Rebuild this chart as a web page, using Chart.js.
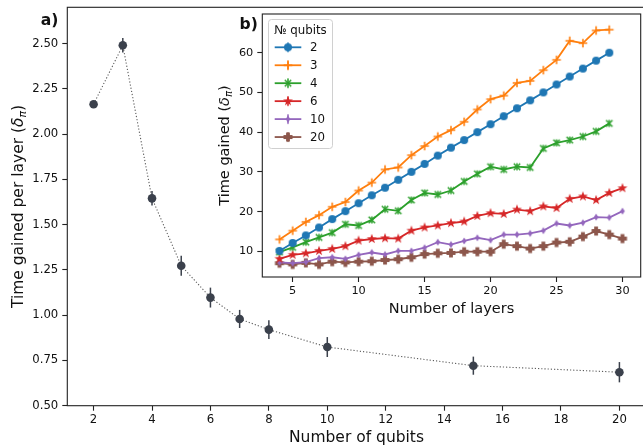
<!DOCTYPE html>
<html><head><meta charset="utf-8">
<script src="https://cdn.jsdelivr.net/npm/chart.js@4.4.1/dist/chart.umd.min.js"></script>
<style>
html,body{margin:0;padding:0;background:#fff;overflow:hidden;width:643px;height:447px;}
#wrap{position:relative;width:643px;height:447px;overflow:hidden;background:#fff;}
canvas{position:absolute;left:0;top:0;}
</style></head><body>
<div id="wrap"><canvas id="main" width="650" height="447"></canvas><canvas id="inset" width="650" height="447"></canvas></div>
<script>
// ---- main panel (a) data ----
const qubits = [2, 3, 4, 5, 6, 7, 8, 10, 15, 20];
const gainPerLayer = [2.165, 2.49, 1.645, 1.273, 1.097, 0.979, 0.92, 0.824, 0.721, 0.685];
const gainErr = [0.01, 0.04, 0.04, 0.055, 0.055, 0.05, 0.052, 0.055, 0.05, 0.056];
const qubitTicks = [2, 4, 6, 8, 10, 12, 14, 16, 18, 20];
const gainTicks = [0.5, 0.75, 1.0, 1.25, 1.5, 1.75, 2.0, 2.25, 2.5];

// ---- inset panel (b) data ----
const layers = [4,5,6,7,8,9,10,11,12,13,14,15,16,17,18,19,20,21,22,23,24,25,26,27,28,29,30];
const q2  = [10.1,12.1,14.0,16.0,18.1,20.1,22.1,24.1,26.0,28.0,30.0,32.0,34.1,36.1,38.0,40.0,42.0,44.0,46.0,48.0,50.0,52.0,54.0,56.0,58.0,60.0];
const q3  = [13.0,15.2,17.4,19.1,21.2,22.4,25.3,27.3,30.6,31.1,34.2,36.5,38.9,40.5,42.6,45.7,48.3,49.2,52.4,52.9,55.6,58.2,63.0,62.4,65.6,65.8];
const q4  = [9.8,11.0,12.3,13.5,14.7,16.8,16.5,17.9,20.6,20.2,22.9,24.7,24.3,25.3,27.6,29.5,31.3,30.6,31.3,31.1,35.9,37.3,38.0,38.9,40.2,42.2];
const q6  = [8.1,9.1,9.5,10.1,10.6,11.3,12.7,13.1,13.3,13.2,15.2,16.0,16.5,17.1,17.5,18.9,19.6,19.4,20.5,20.1,21.3,20.9,23.2,23.8,22.9,24.7,25.9];
const q10 = [7.2,7.0,7.3,8.3,8.5,8.1,9.1,9.7,9.2,10.1,10.1,10.9,12.3,11.7,12.6,13.4,12.8,14.2,14.2,14.5,15.2,17.0,16.5,17.2,18.6,18.5,20.1];
const q20 = [7.0,6.7,7.1,6.7,7.4,7.2,7.4,7.5,7.8,8.0,8.5,9.3,9.5,9.6,9.9,9.9,9.9,11.8,11.3,10.7,11.3,12.2,12.4,13.7,15.1,14.2,13.2];
const seriesLabels = ['2', '3', '4', '6', '10', '20'];
const layerTicks = [5, 10, 15, 20, 25, 30];
const timeTicks = [10, 20, 30, 40, 50, 60];

Chart.defaults.font.family = "'DejaVu Sans', sans-serif";
Chart.defaults.color = '#111';

const TXT = '#111';
const SPINE = '#222';
const MAINC = '#3b414c';
const COLORS = ['#1f77b4', '#ff7f0e', '#2ca02c', '#d62728', '#9467bd', '#8c564b'];
const KINDS = ['o', '+', 'x', '*', 'd', 'P'];

function makeMarker(kind, color, bar) {
  const S = 16, c = document.createElement('canvas');
  c.width = S; c.height = S;
  const g = c.getContext('2d');
  g.translate(S / 2, S / 2);
  g.fillStyle = color; g.strokeStyle = color;
  if (bar) { g.lineWidth = 1.6; g.beginPath(); g.moveTo(0, -bar); g.lineTo(0, bar); g.stroke(); }
  if (kind === 'o') { g.beginPath(); g.arc(0, 0, 4, 0, Math.PI * 2); g.fill(); }
  else if (kind === '+') { g.lineWidth = 1.6; g.beginPath(); g.moveTo(-4.3, 0); g.lineTo(4.3, 0); g.moveTo(0, -4.3); g.lineTo(0, 4.3); g.stroke(); }
  else if (kind === 'x') { g.lineWidth = 1.5; g.beginPath(); g.moveTo(-3.2, -3.2); g.lineTo(3.2, 3.2); g.moveTo(-3.2, 3.2); g.lineTo(3.2, -3.2); g.stroke(); }
  else if (kind === '*') {
    g.beginPath();
    for (let k = 0; k < 10; k++) { const r = k % 2 ? 2.1 : 5.2; const a = -Math.PI / 2 + k * Math.PI / 5; const px = r * Math.cos(a), py = r * Math.sin(a); k ? g.lineTo(px, py) : g.moveTo(px, py); }
    g.closePath(); g.fill();
  }
  else if (kind === 'd') { g.beginPath(); g.moveTo(0, -3.4); g.lineTo(2.3, 0); g.lineTo(0, 3.4); g.lineTo(-2.3, 0); g.closePath(); g.fill(); }
  else if (kind === 'P') {
    const L = 4.5, W = 1.9;
    g.beginPath();
    g.moveTo(-W, -L); g.lineTo(W, -L); g.lineTo(W, -W); g.lineTo(L, -W); g.lineTo(L, W); g.lineTo(W, W);
    g.lineTo(W, L); g.lineTo(-W, L); g.lineTo(-W, W); g.lineTo(-L, W); g.lineTo(-L, -W); g.lineTo(-W, -W); g.closePath(); g.fill();
  }
  return c;
}

function drawVText(ctx, cx, cy, parts, size) {
  ctx.save();
  ctx.translate(cx, cy); ctx.rotate(-Math.PI / 2);
  ctx.fillStyle = TXT; ctx.textBaseline = 'alphabetic'; ctx.textAlign = 'left';
  const fontFor = p => (p.it ? 'italic ' : '') + (p.sub ? size * 0.7 : size) + "px 'DejaVu Sans'";
  let total = 0;
  const ws = parts.map(p => { ctx.font = fontFor(p); const w = ctx.measureText(p.t).width; total += w; return w; });
  let x = -total / 2;
  parts.forEach((p, i) => { ctx.font = fontFor(p); ctx.fillText(p.t, x, size * 0.35 + (p.sub ? size * 0.22 : 0)); x += ws[i]; });
  ctx.restore();
}

const framePlugin = {
  id: 'frame',
  beforeDraw(chart, args, opts) {
    if (opts.fill) {
      const a = chart.chartArea, ctx = chart.ctx;
      ctx.save(); ctx.fillStyle = '#fff'; ctx.fillRect(a.left, a.top, a.right - a.left, a.bottom - a.top); ctx.restore();
    }
  },
  afterDraw(chart, args, opts) {
    const a = chart.chartArea, ctx = chart.ctx;
    ctx.save(); ctx.strokeStyle = SPINE; ctx.lineWidth = 1.1;
    ctx.strokeRect(a.left, a.top, a.right - a.left, a.bottom - a.top);
    ctx.restore();
    if (opts.ytitle) drawVText(ctx, opts.ytitle.x, (a.top + a.bottom) / 2, opts.ytitle.parts, opts.ytitle.size);
    if (opts.tag) {
      ctx.save(); ctx.fillStyle = TXT; ctx.font = "bold 15.6px 'DejaVu Sans'"; ctx.textAlign = 'center'; ctx.textBaseline = 'middle';
      ctx.fillText(opts.tag.t, opts.tag.x, opts.tag.y); ctx.restore();
    }
  }
};

const errPlugin = {
  id: 'errbars',
  beforeDatasetsDraw(chart) {
    const ctx = chart.ctx, xs = chart.scales.x, ys = chart.scales.y;
    ctx.save(); ctx.strokeStyle = MAINC; ctx.lineWidth = 1.5;
    qubits.forEach((q, i) => {
      const x = xs.getPixelForValue(q);
      ctx.beginPath();
      ctx.moveTo(x, ys.getPixelForValue(gainPerLayer[i] - gainErr[i]));
      ctx.lineTo(x, ys.getPixelForValue(gainPerLayer[i] + gainErr[i]));
      ctx.stroke();
    });
    ctx.restore();
  }
};

const legendMarkers = KINDS.map((k, i) => makeMarker(k, COLORS[i], 4.8));
const legendPlugin = {
  id: 'boxlegend',
  afterDraw(chart) {
    const ctx = chart.ctx;
    ctx.save();
    ctx.beginPath();
    ctx.roundRect(268.5, 19.5, 64, 129, 3);
    ctx.fillStyle = 'rgba(255,255,255,0.85)'; ctx.fill();
    ctx.strokeStyle = '#d0d0d0'; ctx.lineWidth = 1; ctx.stroke();
    ctx.fillStyle = TXT; ctx.font = "11.8px 'DejaVu Sans'"; ctx.textBaseline = 'middle';
    ctx.textAlign = 'center'; ctx.fillText('№ qubits', 300.5, 30.5);
    ctx.textAlign = 'left';
    chart.data.datasets.forEach((ds, i) => {
      const y = 47.3 + i * 17.95;
      ctx.strokeStyle = ds.borderColor; ctx.lineWidth = 1.8;
      ctx.beginPath(); ctx.moveTo(274.7, y); ctx.lineTo(301.3, y); ctx.stroke();
      const m = legendMarkers[i];
      ctx.drawImage(m, 288 - m.width / 2, y - m.height / 2);
      ctx.fillStyle = TXT; ctx.fillText(ds.label, 310, y + 0.5);
    });
    ctx.restore();
  }
};

const fixY = w => s => { s.width = w; s.paddingTop = 0; s.paddingBottom = 0; };
const fixX = h => s => { s.height = h; s.paddingLeft = 0; s.paddingRight = 0; };

// ---- main chart ----
new Chart(document.getElementById('main'), {
  type: 'line',
  data: {
    datasets: [{
      data: qubits.map((q, i) => ({ x: q, y: gainPerLayer[i] })),
      borderColor: '#5c5c5c', borderWidth: 1.1, borderDash: [1.2, 2.0],
      pointRadius: 4.3, pointBackgroundColor: MAINC, pointBorderColor: MAINC, pointBorderWidth: 0,
      tension: 0, fill: false
    }]
  },
  options: {
    responsive: false, animation: false, events: [],
    layout: { padding: { left: 0, top: 7.3, right: 4, bottom: 0 } },
    plugins: {
      legend: { display: false }, tooltip: { enabled: false },
      frame: { ytitle: { x: 17.5, size: 15.5, parts: [{ t: 'Time gained per layer (' }, { t: 'δ', it: true }, { t: 'π', it: true, sub: true }, { t: ')' }] }, tag: { t: 'a)', x: 49.5, y: 20.5 } }
    },
    scales: {
      x: {
        type: 'linear', min: 1.1, max: 20.9,
        afterFit: fixX(41.3),
        afterBuildTicks: s => { s.ticks = qubitTicks.map(v => ({ value: v })); },
        grid: { drawOnChartArea: false, tickLength: 5, tickColor: SPINE, tickWidth: 1.1 },
        border: { display: false },
        ticks: { padding: 2, color: TXT, font: { size: 11.7 }, maxRotation: 0, callback: v => String(v) },
        title: { display: true, text: 'Number of qubits', color: TXT, font: { size: 15.5 }, padding: 0 }
      },
      y: {
        type: 'linear', min: 0.5, max: 2.7,
        afterFit: fixY(67.3),
        afterBuildTicks: s => { s.ticks = gainTicks.map(v => ({ value: v })); },
        grid: { drawOnChartArea: false, tickLength: 5, tickColor: SPINE, tickWidth: 1.1 },
        border: { display: false },
        ticks: { padding: 4, color: TXT, font: { size: 11.7 }, callback: v => Number(v).toFixed(2) }
      }
    }
  },
  plugins: [framePlugin, errPlugin]
});

// ---- inset chart ----
const seriesValues = [q2, q3, q4, q6, q10, q20];
new Chart(document.getElementById('inset'), {
  type: 'line',
  data: {
    datasets: seriesValues.map((vals, i) => ({
      label: seriesLabels[i],
      data: vals.map((v, j) => ({ x: layers[j], y: v })),
      borderColor: COLORS[i], backgroundColor: COLORS[i], borderWidth: 1.8,
      pointStyle: makeMarker(KINDS[i], COLORS[i], KINDS[i] === 'x' ? 3.6 : 0),
      pointRadius: 4, tension: 0, fill: false
    }))
  },
  options: {
    responsive: false, animation: false, events: [],
    layout: { padding: { left: 222.3, top: 14, right: 9.3, bottom: 447 - 277 - 40.7 } },
    plugins: {
      legend: { display: false }, tooltip: { enabled: false },
      frame: { fill: true, ytitle: { x: 224, size: 14.5, parts: [{ t: 'Time gained (' }, { t: 'δ', it: true }, { t: 'π', it: true, sub: true }, { t: ')' }] }, tag: { t: 'b)', x: 248.7, y: 24.5 } }
    },
    scales: {
      x: {
        type: 'linear', min: 2.7, max: 31.38,
        afterFit: fixX(40.7),
        afterBuildTicks: s => { s.ticks = layerTicks.map(v => ({ value: v })); },
        grid: { drawOnChartArea: false, tickLength: 5, tickColor: SPINE, tickWidth: 1.1 },
        border: { display: false },
        ticks: { padding: 2, color: TXT, font: { size: 11.3 }, maxRotation: 0 },
        title: { display: true, text: 'Number of layers', color: TXT, font: { size: 14.5 }, padding: 0 }
      },
      y: {
        type: 'linear', min: 3.53, max: 69.74,
        afterFit: fixY(40),
        afterBuildTicks: s => { s.ticks = timeTicks.map(v => ({ value: v })); },
        grid: { drawOnChartArea: false, tickLength: 5, tickColor: SPINE, tickWidth: 1.1 },
        border: { display: false },
        ticks: { padding: 4, color: TXT, font: { size: 11.3 } }
      }
    }
  },
  plugins: [framePlugin, legendPlugin]
});
</script>
</body></html>
